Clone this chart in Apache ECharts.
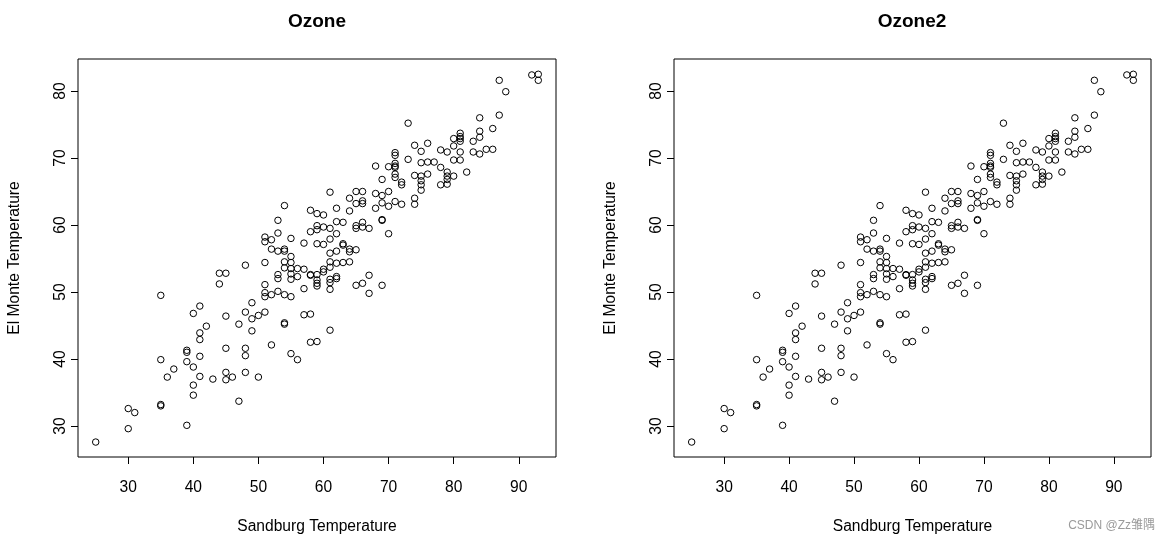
<!DOCTYPE html>
<html>
<head>
<meta charset="utf-8">
<script src="https://cdn.jsdelivr.net/npm/echarts@6/dist/echarts.min.js"></script>
<style>
html,body{margin:0;padding:0;background:#fff;}
#chart{width:1171px;height:542px;}
</style>
</head>
<body>
<div id="chart"></div>
<script>
// Sandburg temperature (x) and El Monte temperature (y)
const sandburg = [
 25,30,31,30,35,35,35,35,36,37,
 39,39,39,39,40,40,40,40,41,41,
 41,41,41,42,43,44,44,45,45,45,
 45,45,46,47,47,48,48,48,48,48,
 49,49,49,50,50,51,52,54,54,55,
 56,57,58,58,59,61,51,51,51,52,
 53,54,55,57,61,67,61,54,58,59,
 60,62,64,53,62,63,59,60,61,58,
 59,53,62,51,51,52,55,57,59,60,
 61,63,63,64,64,52,53,54,54,55,
 51,54,55,54,55,56,57,61,62,61,
 62,63,64,60,61,58,58,53,53,55,
 55,56,59,60,59,59,59,61,61,62,
 64,62,65,66,67,69,71,71,75,73,
 68,70,71,71,71,75,76,77,76,74,
 78,69,71,71,72,72,65,66,68,69,
 70,65,66,66,69,68,70,71,72,74,
 74,69,69,65,65,66,66,67,70,65,
 75,75,75,75,92,93,93,87,88,87,
 84,86,84,84,83,81,81,81,81,80,
 76,78,79,80,81,83,84,85,86,80,
 81,78,79,79,79,80,79,82,73,74
];
const elMonte = [
 27.6,32.6,32.0,29.6,49.5,39.9,33.2,33.0,37.3,38.5,
 41.3,41.0,39.6,30.1,46.8,38.8,36.1,34.6,47.9,43.9,
 42.9,40.4,37.4,44.9,37.0,52.8,51.2,52.8,46.4,41.6,
 38.0,36.9,37.3,45.2,33.7,54.0,47.0,41.6,40.5,38.0,
 48.4,46.0,44.2,37.3,46.5,47.0,42.1,45.4,45.2,40.8,
 39.9,46.6,46.7,42.5,42.6,44.3,51.1,49.9,49.3,49.6,
 50.1,49.6,49.3,50.5,50.4,49.8,64.9,62.9,62.2,61.7,
 61.5,62.5,62.1,60.7,60.5,60.4,59.9,59.7,59.5,59.0,
 59.3,58.8,58.7,58.2,57.5,57.8,58.0,57.3,57.2,57.1,
 57.9,57.2,57.0,56.4,56.0,56.4,56.1,56.4,56.1,55.3,
 54.4,54.5,54.4,53.6,53.5,53.5,53.4,55.8,56.1,54.5,
 54.3,54.4,54.5,53.4,53.7,52.6,52.5,52.6,52.0,52.7,
 51.9,52.3,52.6,53.0,51.8,51.3,50.9,51.9,51.4,52.3,
 64.0,52.0,51.0,51.3,52.5,51.0,70.8,70.4,71.0,69.8,
 68.8,68.7,69.2,68.8,68.6,69.3,69.4,69.4,67.6,67.4,
 66.0,66.8,67.6,67.1,66.4,66.0,65.0,65.0,64.7,64.4,
 65.0,63.2,63.6,63.2,63.3,62.5,62.8,63.5,63.1,64.0,
 63.1,60.8,60.7,59.9,59.5,60.4,59.7,59.5,58.7,56.3,
 67.3,66.6,66.0,65.2,82.4,82.5,81.6,81.6,79.9,76.4,
 76.0,74.4,74.0,73.1,72.5,73.7,73.2,72.9,72.5,72.9,
 72.2,71.2,70.9,71.8,70.9,70.9,70.6,71.3,71.3,69.7,
 69.7,68.6,67.9,67.3,66.8,67.3,66.1,67.9,75.2,71.9
];
const xTicks = [30, 40, 50, 60, 70, 80, 90];
const yTicks = [30, 40, 50, 60, 70, 80];
const panelTitles = ['Ozone', 'Ozone2'];
const xTitle = 'Sandburg Temperature';
const yTitle = 'El Monte Temperature';
const watermark = 'CSDN @Zz雏隅';

const FONT = '"Liberation Sans", Arial, sans-serif';
const points = sandburg.map((x, i) => [x, elMonte[i]]);

const grids = [
  {left: 78, top: 59, width: 478, height: 398},
  {left: 674, top: 59, width: 477, height: 398}
];

function xAxisCfg(gi) {
  return {
    gridIndex: gi, type: 'value', min: 22.28, max: 95.72,
    name: xTitle, nameLocation: 'middle', nameGap: 62,
    nameTextStyle: {color: '#000', fontSize: 15.6, fontFamily: FONT},
    axisLine: {show: false},
    axisTick: {show: true, length: 7, inside: false, customValues: xTicks, lineStyle: {color: '#000', width: 1}},
    axisLabel: {show: true, customValues: xTicks, margin: 23, color: '#000', fontSize: 15.6, fontFamily: FONT},
    splitLine: {show: false}
  };
}
function yAxisCfg(gi) {
  return {
    gridIndex: gi, type: 'value', min: 25.37, max: 84.78,
    name: yTitle, nameLocation: 'middle', nameGap: 55,
    nameTextStyle: {color: '#000', fontSize: 15.6, fontFamily: FONT},
    axisLine: {show: false},
    axisTick: {show: true, length: 7, inside: false, customValues: yTicks, lineStyle: {color: '#000', width: 1}},
    axisLabel: {show: true, customValues: yTicks, rotate: 90, margin: 9, color: '#000', fontSize: 15.6, fontFamily: FONT},
    splitLine: {show: false}
  };
}

const chart = echarts.init(document.getElementById('chart'), null, {renderer: 'canvas'});
chart.setOption({
  animation: false,
  backgroundColor: '#fff',
  grid: grids.map(g => Object.assign({show: true, borderColor: '#000', borderWidth: 1, backgroundColor: 'transparent'}, g)),
  xAxis: [xAxisCfg(0), xAxisCfg(1)],
  yAxis: [yAxisCfg(0), yAxisCfg(1)],
  series: [0, 1].map(gi => ({
    type: 'scatter', xAxisIndex: gi, yAxisIndex: gi,
    data: points, symbol: 'circle', symbolSize: 6.5,
    itemStyle: {color: 'rgba(0,0,0,0)', borderColor: '#000', borderWidth: 1, opacity: 1},
    emphasis: {disabled: true}, silent: true
  })),
  graphic: [
    {type: 'text', x: 317, y: 22, style: {text: panelTitles[0], fill: '#000', font: 'bold 19px ' + FONT, textAlign: 'center', textVerticalAlign: 'middle'}},
    {type: 'text', x: 912, y: 22, style: {text: panelTitles[1], fill: '#000', font: 'bold 19px ' + FONT, textAlign: 'center', textVerticalAlign: 'middle'}},
    {type: 'text', x: 1155, y: 526, style: {text: watermark, fill: '#9a9a9a', font: '12px "Liberation Sans", "Noto Sans CJK SC", sans-serif', textAlign: 'right', textVerticalAlign: 'middle'}}
  ]
});
</script>
</body>
</html>
